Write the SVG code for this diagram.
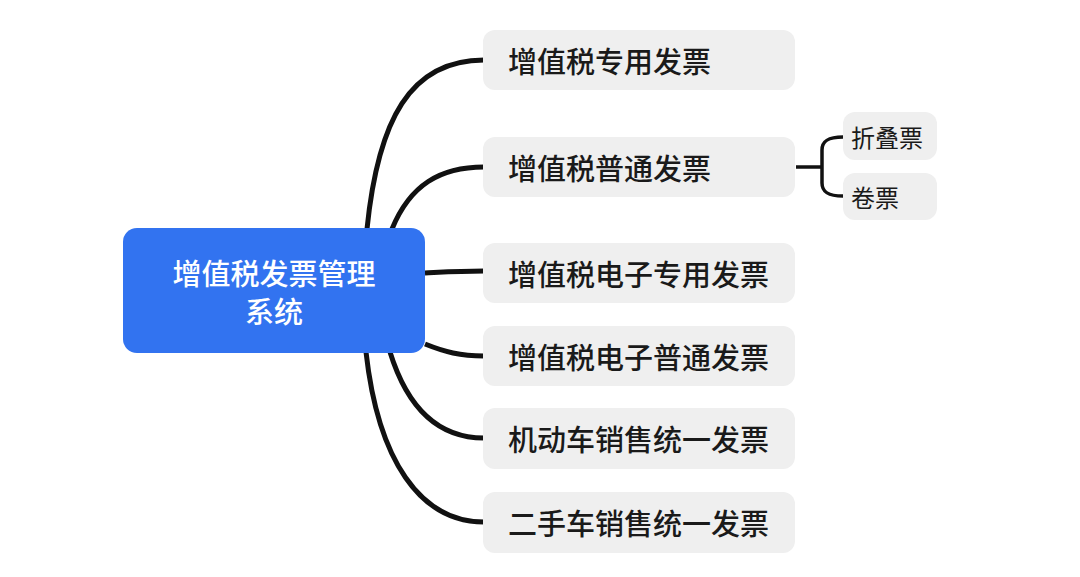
<svg xmlns="http://www.w3.org/2000/svg" width="1080" height="577" viewBox="0 0 1080 577">
<style>
.bg{fill:#ffffff}
.child rect{fill:#efefef}
.child text{font-family:"Noto Sans CJK SC","Noto Sans",sans-serif;font-size:29px;font-weight:500;fill:#1a1a1a;dominant-baseline:central}
.sub rect{fill:#efefef}
.sub text{font-family:"Noto Sans CJK SC","Noto Sans",sans-serif;font-size:24px;font-weight:400;fill:#1a1a1a;dominant-baseline:central}
.root rect{fill:#3273f0}
.root text{font-family:"Noto Sans CJK SC","Noto Sans",sans-serif;font-size:29px;font-weight:500;fill:#ffffff;text-anchor:middle;dominant-baseline:central}
.conn path{fill:none;stroke:#111111;stroke-width:5;stroke-linecap:butt}
.conn2 path{fill:none;stroke:#111111;stroke-width:3.5}
</style>
<rect class="bg" width="1080" height="577"/>
<g id="connectors" class="conn">
<path d="M367,229 C378,120 410,60 484,60"/>
<path d="M392,229 C410,185 440,167 484,167"/>
<path d="M425,273 C445,272 460,271 484,271"/>
<path d="M425,344 C445,352 460,356 484,356"/>
<path d="M390,352 C408,410 440,438 484,438"/>
<path d="M366,352 C378,460 420,522 484,522"/>
</g>
<g id="sub-connectors" class="conn2">
<path d="M796,167 L822,167"/>
<path d="M843,137 C828,137 822,141 822,150 L822,183 C822,192 828,196 843,196"/>
</g>
<g id="root" class="root">
<rect x="123" y="228" width="302" height="125" rx="14"/>
<text x="274" y="272">增值税发票管理</text>
<text x="274" y="310">系统</text>
</g>
<g id="n1" class="child"><rect x="483" y="30" width="312" height="60" rx="12"/><text x="508" y="60">增值税专用发票</text></g>
<g id="n2" class="child"><rect x="483" y="137" width="312" height="60" rx="12"/><text x="508" y="167">增值税普通发票</text></g>
<g id="n3" class="child"><rect x="483" y="243" width="312" height="60" rx="12"/><text x="508" y="273">增值税电子专用发票</text></g>
<g id="n4" class="child"><rect x="483" y="326" width="312" height="60" rx="12"/><text x="508" y="356">增值税电子普通发票</text></g>
<g id="n5" class="child"><rect x="483" y="408" width="312" height="61" rx="12"/><text x="508" y="438">机动车销售统一发票</text></g>
<g id="n6" class="child"><rect x="483" y="492" width="312" height="61" rx="12"/><text x="508" y="522">二手车销售统一发票</text></g>
<g id="s1" class="sub"><rect x="843" y="112" width="94" height="48" rx="12"/><text x="851" y="136">折叠票</text></g>
<g id="s2" class="sub"><rect x="843" y="173" width="94" height="47" rx="12"/><text x="851" y="196">卷票</text></g>
</svg>
